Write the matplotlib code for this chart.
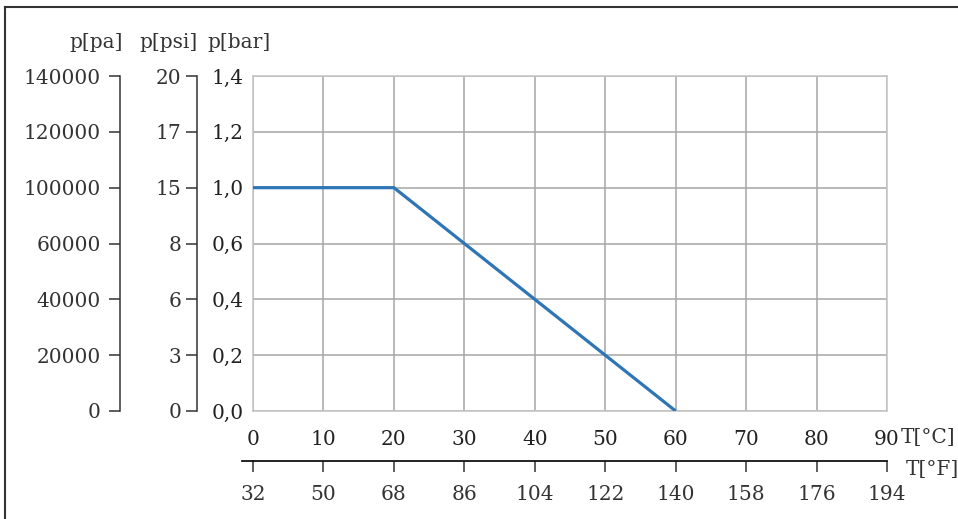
import numpy as np
import matplotlib
matplotlib.use("Agg")
import matplotlib.pyplot as plt
from matplotlib.lines import Line2D

plt.rcParams['font.family'] = ['DejaVu Serif']
plt.rcParams['font.size'] = 14

# Pressure tick labels (same grid rows, three units)
bar_ticks = [0.0, 0.2, 0.4, 0.6, 1.0, 1.2, 1.4]
bar_labels = ['0,0', '0,2', '0,4', '0,6', '1,0', '1,2', '1,4']
psi_labels = ['0', '3', '6', '8', '15', '17', '20']
pa_labels = ['0', '20000', '40000', '60000', '100000', '120000', '140000']

# Temperature ticks
c_ticks = [0, 10, 20, 30, 40, 50, 60, 70, 80, 90]
f_ticks = [32, 50, 68, 86, 104, 122, 140, 158, 176, 194]

# Curve: pressure in bar against temperature in °C
temp_c = [0, 20, 60]
p_bar = [1.0, 1.0, 0.0]

text_col = '#333333'
grid_col = '#a6a6a6'
fs = 14.5

W, H = 958, 519
fig = plt.figure(figsize=(W / 100, H / 100), dpi=100)

# frame of the drawing (left and top only)
fig.add_artist(Line2D([5 / W, 5 / W], [0, 1 - 7 / H], color='#333333', lw=1.5))
fig.add_artist(Line2D([5 / W, 1], [1 - 7 / H, 1 - 7 / H], color='#333333', lw=1.5))

x0, x1, y0, y1 = 253, 887, 76, 411
ax = fig.add_axes([x0 / W, 1 - y1 / H, (x1 - x0) / W, (y1 - y0) / H])

# rows are evenly spaced although the bar values are not
pos = np.arange(len(bar_ticks))
fwd = lambda v: np.interp(v, bar_ticks, pos)
inv = lambda p: np.interp(p, pos, bar_ticks)
ax.set_yscale('function', functions=(fwd, inv))

ax.plot(temp_c, p_bar, color='#2e75b6', lw=2.3, solid_capstyle='butt', zorder=3)

ax.set_xlim(0, 90)
ax.set_ylim(0, 1.4)
ax.set_xticks(c_ticks)
ax.set_yticks(bar_ticks)
ax.set_yticklabels(bar_labels)
ax.grid(True, color=grid_col, lw=1.1)
for s in ax.spines.values():
    s.set_color('#c4c4c4')
    s.set_linewidth(1.1)
ax.tick_params(axis='both', length=0, labelsize=fs)
ax.tick_params(axis='y', pad=7, labelcolor='#222222')
ax.tick_params(axis='x', pad=14, labelcolor='#222222')


# psi and pa axes to the left, same rows as the bar axis
def side_axis(xpix, labels, pad):
    a = fig.add_axes([xpix / W, 1 - y1 / H, 0.0001, (y1 - y0) / H])
    a.set_yscale('function', functions=(fwd, inv))
    a.set_ylim(0, 1.4)
    a.set_yticks(bar_ticks)
    a.set_yticklabels(labels)
    a.set_xticks([])
    for k in ('right', 'top', 'bottom'):
        a.spines[k].set_visible(False)
    a.spines['left'].set_color('#333333')
    a.spines['left'].set_linewidth(1.1)
    a.patch.set_visible(False)
    a.tick_params(axis='y', length=8, width=1.1, color='#333333',
                  labelcolor=text_col, labelsize=fs, pad=pad)
    return a


psi = side_axis(197, psi_labels, 3)
pa = side_axis(120, pa_labels, 6)

# Fahrenheit axis below
c2f = lambda c: np.asarray(c) * 1.8 + 32
f2c = lambda f: (np.asarray(f) - 32) / 1.8
fy = (y1 - 461) / (y1 - y0)
fax = ax.secondary_xaxis(fy, functions=(c2f, f2c))
fax.set_xticks(f_ticks)
fax.spines['bottom'].set_color('#111111')
fax.spines['bottom'].set_linewidth(1.3)
fax.tick_params(axis='x', length=8, width=1.1, color='#333333',
                labelcolor=text_col, labelsize=fs, pad=9)
ax.add_line(Line2D([(242 - x0) / (x1 - x0), 0], [fy, fy],
                   transform=ax.transAxes, color='#111111', lw=1.3, clip_on=False))

# unit labels
fig.text(96 / W, 1 - 42 / H, 'p[pa]', ha='center', va='center', color=text_col, fontsize=fs)
fig.text(168 / W, 1 - 42 / H, 'p[psi]', ha='center', va='center', color=text_col, fontsize=fs)
fig.text(239 / W, 1 - 42 / H, 'p[bar]', ha='center', va='center', color=text_col, fontsize=fs)
fig.text(901 / W, 1 - 437 / H, 'T[°C]', ha='left', va='center', color=text_col, fontsize=fs)
fig.text(906 / W, 1 - 469 / H, 'T[°F]', ha='left', va='center', color=text_col, fontsize=fs)

fig.savefig('out.png', dpi=100)
